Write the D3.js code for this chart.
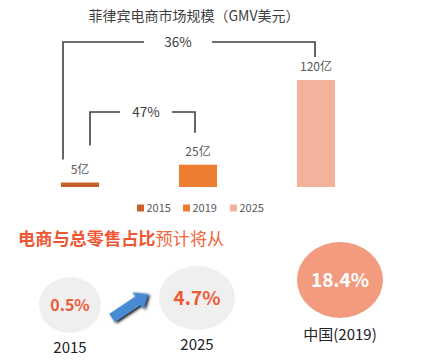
<!DOCTYPE html>
<html><head><meta charset="utf-8">
<script src="https://cdn.jsdelivr.net/npm/d3@7"></script>
<style>
body{margin:0;background:#fff;}
svg{display:block;font-family:"Noto Sans CJK SC","Noto Sans",sans-serif;}
</style></head>
<body><svg id="c" width="424" height="363"></svg>
<script>
const years = ["2015","2019","2025"];
const gmv = [5, 25, 120];
const gmvLabels = ["5亿","25亿","120亿"];
const cagrLabels = ["36%","47%"];
const shareYears = ["2015","2025"];
const shareValues = ["0.5%","4.7%"];
const chinaLabel = "中国(2019)";
const chinaValue = "18.4%";
const colors = ["#C4602B","#ED7D31","#F3B29C"];

const svg = d3.select("#c");
const x = d3.scalePoint().domain(years).range([80, 316]);
const y = d3.scaleLinear().domain([0, 120]).range([187, 80]);
const bw = 38;

svg.append("text").attr("x",194).attr("y",21).attr("text-anchor","middle")
  .attr("font-size",14).attr("fill","#404040").text("菲律宾电商市场规模（GMV美元）");

svg.selectAll("rect.bar").data(years).join("rect").attr("class","bar")
  .attr("x",d=>x(d)-bw/2).attr("width",bw)
  .attr("y",(d,i)=>y(gmv[i])).attr("height",(d,i)=>y(0)-y(gmv[i]))
  .attr("fill",(d,i)=>colors[i]);

svg.selectAll("text.val").data(years).join("text").attr("class","val")
  .attr("x",d=>x(d)).attr("y",(d,i)=>y(gmv[i])-9).attr("text-anchor","middle")
  .attr("font-size",12).attr("fill","#595959").text((d,i)=>gmvLabels[i]);

// brackets
const line = svg.append("g").attr("stroke","#404040").attr("stroke-width",1.6).attr("fill","none");
function bracket(xl, yl, xr, yr, yTop, gapL, gapR, label){
  line.append("path").attr("d",`M${xl},${yl}V${yTop}H${gapL}`);
  line.append("path").attr("d",`M${gapR},${yTop}H${xr}V${yr}`);
  svg.append("text").attr("x",(gapL+gapR)/2).attr("y",yTop+4.5).attr("text-anchor","middle")
    .attr("font-size",13.5).attr("fill","#404040").text(label);
}
bracket(x("2015")-17, y(gmv[0])-23, x("2025")-1, y(gmv[2])-23, 42, 144, 212, cagrLabels[0]);
bracket(x("2015")+10, y(gmv[0])-37, x("2019")-3, y(gmv[1])-32, 112, 120, 172, cagrLabels[1]);

// legend
const lg = svg.append("g");
const lx = [137, 183, 230];
years.forEach((d,i)=>{
  lg.append("rect").attr("x",lx[i]).attr("y",204.5).attr("width",7).attr("height",7).attr("fill",colors[i]);
  lg.append("text").attr("x",lx[i]+9.5).attr("y",212).attr("font-size",11).attr("fill","#595959").text(d);
});

// bottom heading
const h = svg.append("text").attr("x",18).attr("y",245).attr("font-size",17.2);
h.append("tspan").attr("font-weight","bold").attr("fill","#EE5634").text("电商与总零售占比");
h.append("tspan").attr("fill","#F0673C").text("预计将从");

// circles
const cx = [70, 197], cy = [305, 298], rx = [31, 38], ry = [28, 32], fs = [16, 19];
shareYears.forEach((d,i)=>{
  svg.append("ellipse").attr("cx",cx[i]).attr("cy",cy[i]).attr("rx",rx[i]).attr("ry",ry[i]).attr("fill","#EFEFEF");
  svg.append("text").attr("x",cx[i]).attr("y",cy[i]+fs[i]*0.36).attr("text-anchor","middle")
    .attr("font-size",fs[i]).attr("font-weight","bold").attr("fill","#EF5A36").text(shareValues[i]);
  svg.append("text").attr("x",cx[i]).attr("y",i===0?353:350).attr("text-anchor","middle")
    .attr("font-size",15).attr("fill","#222").text(d);
});

// arrow
const defs = svg.append("defs");
const f = defs.append("filter").attr("id","sh").attr("x","-30%").attr("y","-30%").attr("width","160%").attr("height","160%");
f.append("feGaussianBlur").attr("in","SourceAlpha").attr("stdDeviation",1.5);
f.append("feOffset").attr("dx",1).attr("dy",2).attr("result","b");
const m = f.append("feMerge"); m.append("feMergeNode").attr("in","b"); m.append("feMergeNode").attr("in","SourceGraphic");
const ang = Math.atan2(294-318, 148-112);
const L = Math.hypot(36, 24);
const ag = svg.append("g").attr("transform",`translate(112,318) rotate(${ang*180/Math.PI})`).attr("filter","url(#sh)");
ag.append("path").attr("d",`M0,-5L${L-12},-5L${L-12},-10L${L},0L${L-12},10L${L-12},5L0,5Z`).attr("fill","#4A8BD3");

// china
svg.append("ellipse").attr("cx",340).attr("cy",280).attr("rx",43).attr("ry",38).attr("fill","#F39B7E");
svg.append("text").attr("x",340).attr("y",287).attr("text-anchor","middle").attr("font-size",19)
  .attr("font-weight","bold").attr("fill","#fff").text(chinaValue);
svg.append("text").attr("x",340).attr("y",340).attr("text-anchor","middle").attr("font-size",15)
  .attr("fill","#222").text(chinaLabel);
</script></body></html>
